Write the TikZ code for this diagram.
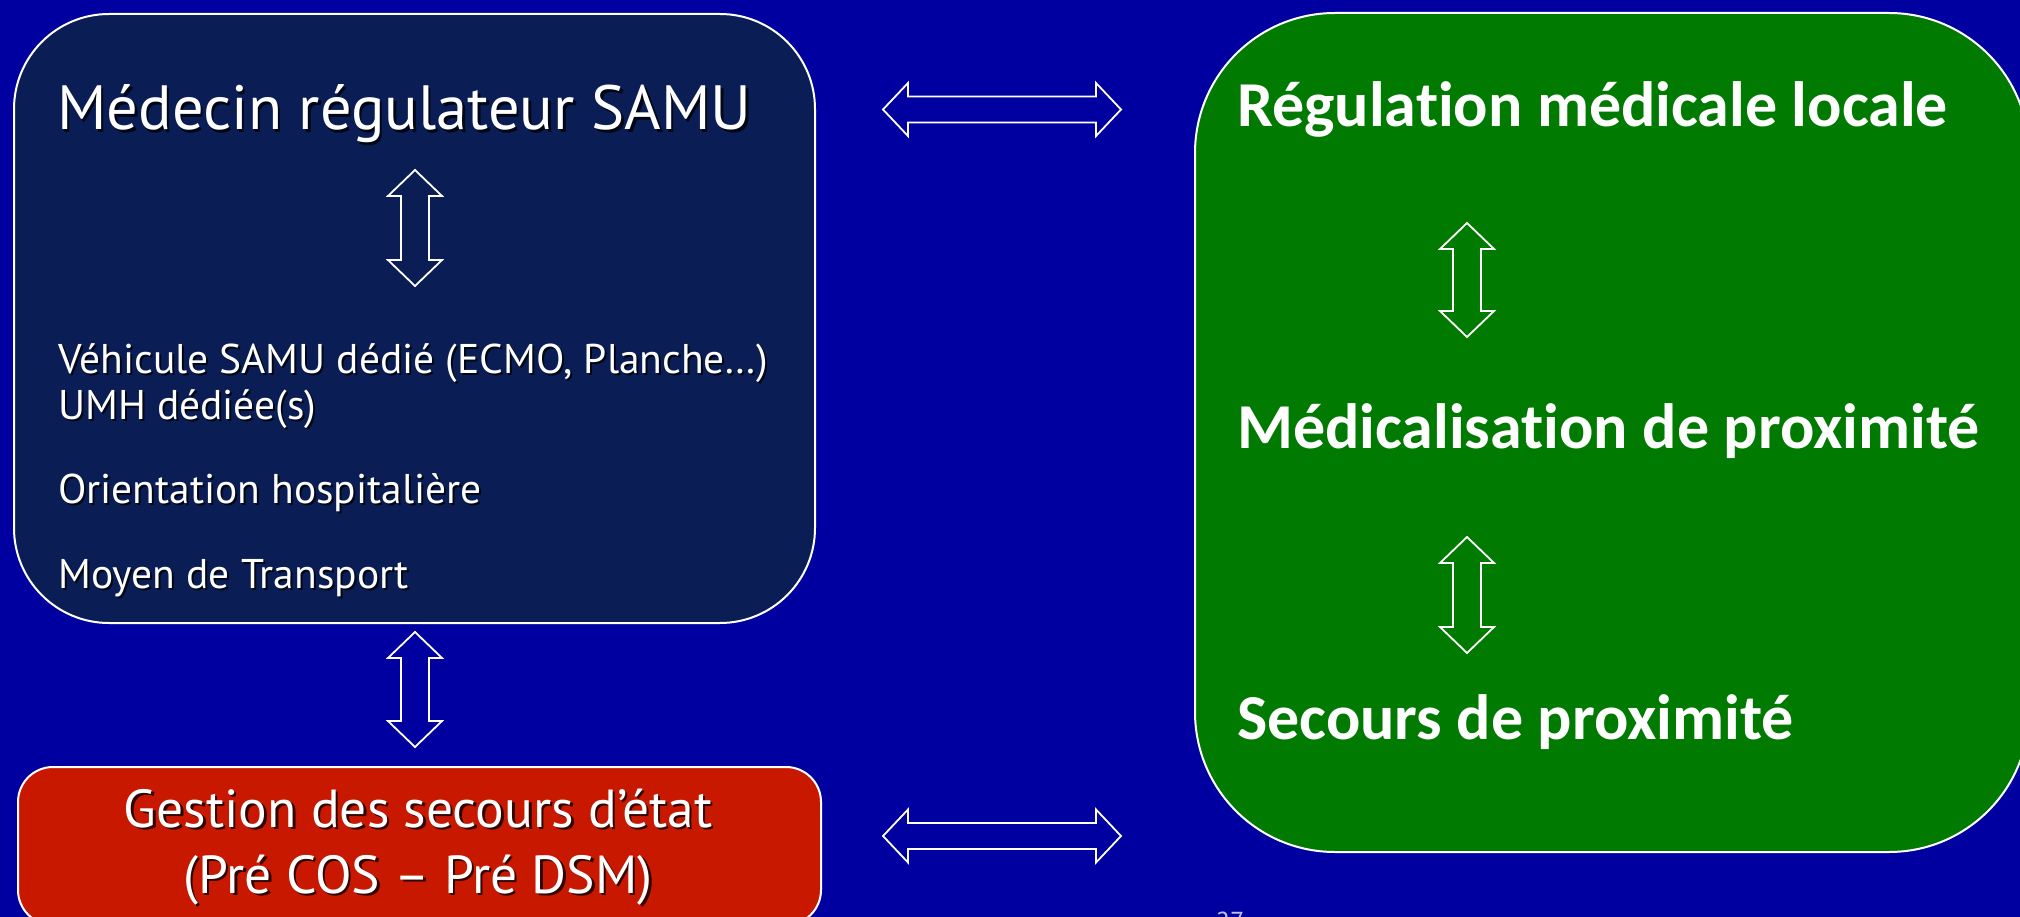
\documentclass[tikz,border=0pt]{standalone}
\usepackage{fontspec}
\setmainfont{PT Sans}
\newfontfamily\calib[Ligatures={NoCommon}]{Carlito}
\definecolor{bg}{RGB}{0,0,160}
\definecolor{navy}{RGB}{10,30,85}
\definecolor{redbox}{RGB}{200,24,0}
\definecolor{greenbox}{RGB}{0,122,0}
\newcommand\vdarr[3]{%
  \draw[arr] (#1,#2) -- (#1+27,#2+26) -- (#1+14,#2+26) -- (#1+14,#3-26) -- (#1+27,#3-26)
    -- (#1,#3) -- (#1-27,#3-26) -- (#1-14,#3-26) -- (#1-14,#2+26) -- (#1-27,#2+26) -- cycle;}
\newcommand\hdarr[3]{%
  \draw[arr] (#1,#3) -- (#1+25,#3-26.5) -- (#1+25,#3-13) -- (#2-25,#3-13) -- (#2-25,#3-26.5)
    -- (#2,#3) -- (#2-25,#3+26.5) -- (#2-25,#3+13) -- (#1+25,#3+13) -- (#1+25,#3+26.5) -- cycle;}
\begin{document}
\begin{tikzpicture}[x=1pt,y=-1pt,
  box/.style={draw=white, line width=2pt, anchor=north west, inner sep=0pt},
  arr/.style={draw=white, line width=1.8pt, line join=miter},
  ttl/.style={text=white, font=\fontsize{62.5}{70}\selectfont, anchor=base west, inner sep=0pt},
  body/.style={text=white, font=\fontsize{41.5}{48}\selectfont, anchor=base west, inner sep=0pt},
  redt/.style={text=white, font=\fontsize{53.5}{60}\selectfont, anchor=base, inner sep=0pt},
  grn/.style={text=white, font=\calib\bfseries\fontsize{64}{72}\selectfont, anchor=base west, inner sep=0pt},
  shd/.style={text=black, opacity=0.75}]
\useasboundingbox (0,0) rectangle (2020,917);
\fill[bg] (0,0) rectangle (2020,917);
% boxes
\node[box, fill=navy, rounded corners=95pt, minimum width=801pt, minimum height=609pt] (samu) at (13,13) {};
\node[box, fill=greenbox, rounded corners=140pt, minimum width=834pt, minimum height=839pt] (local) at (1194,12) {};
\node[box, fill=redbox, rounded corners=35pt, minimum width=803pt, minimum height=158pt] (etat) at (17,766) {};
% left box texts
\node[ttl, shd] (t1s) at (59.5,132.5) {Médecin régulateur SAMU};
\node[ttl] (t1) at (57,130) {Médecin régulateur SAMU};
\node[body, shd] (b1s) at (60,375) {Véhicule SAMU dédié (ECMO, Planche…)};
\node[body] (b1) at (58,373) {Véhicule SAMU dédié (ECMO, Planche…)};
\node[body, shd] (b2s) at (60,421) {UMH dédiée(s)};
\node[body] (b2) at (58,419) {UMH dédiée(s)};
\node[body, shd] (b3s) at (60,505) {Orientation hospitalière};
\node[body] (b3) at (58,503) {Orientation hospitalière};
\node[body, shd] (b4s) at (60,590) {Moyen de Transport};
\node[body] (b4) at (58,588) {Moyen de Transport};
% red box texts
\node[redt, shd] (r1s) at (420.5,829.5) {Gestion des secours d’état};
\node[redt] (r1) at (418,827) {Gestion des secours d’état};
\node[redt, shd] (r2s) at (420.5,895.5) {(Pré COS – Pré DSM)};
\node[redt] (r2) at (418,893) {(Pré COS – Pré DSM)};
% green box texts
\node[grn] (g1) at (1237,127) {Régulation médicale locale};
\node[grn] (g2) at (1237,448) {Médicalisation de proximité};
\node[grn] (g3) at (1237,739) {Secours de proximité};
% arrows
\vdarr{415}{170}{286}
\vdarr{415}{632}{747}
\vdarr{1467}{223}{337}
\vdarr{1467}{537}{653}
\hdarr{883}{1121}{109.5}
\hdarr{883}{1121}{836}
% page number (cut off at the lower edge, as in the reference)
\node[text=white!75!bg, font=\fontsize{26}{30}\selectfont, anchor=north, inner sep=0pt] (pg) at (1230,912) {27};
\end{tikzpicture}
\end{document}
